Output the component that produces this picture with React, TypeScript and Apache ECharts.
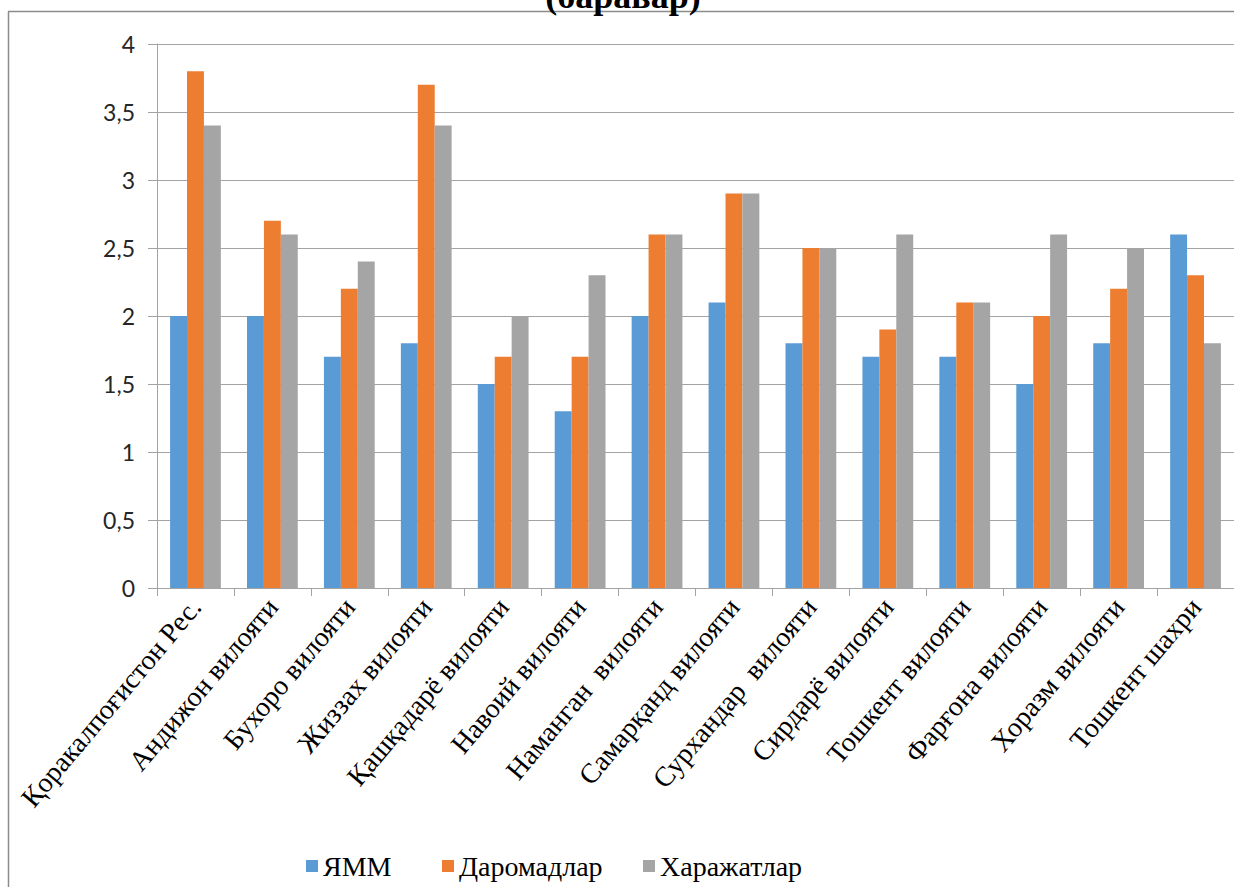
import React, { useEffect, useRef } from "react";
import * as echarts from "echarts";

const categories = [
  "Қоракалпоғистон Рес.",
  "Андижон вилояти",
  "Бухоро вилояти",
  "Жиззах вилояти",
  "Қашқадарё вилояти",
  "Навоий вилояти",
  "Наманган  вилояти",
  "Самарқанд вилояти",
  "Сурхандар  вилояти",
  "Сирдарё вилояти",
  "Тошкент вилояти",
  "Фарғона вилояти",
  "Хоразм вилояти",
  "Тошкент шахри",
];

const seriesNames = ["ЯММ", "Даромадлар", "Харажатлар"];
const yammValues = [2.0, 2.0, 1.7, 1.8, 1.5, 1.3, 2.0, 2.1, 1.8, 1.7, 1.7, 1.5, 1.8, 2.6];
const incomeValues = [3.8, 2.7, 2.2, 3.7, 1.7, 1.7, 2.6, 2.9, 2.5, 1.9, 2.1, 2.0, 2.2, 2.3];
const expenseValues = [3.4, 2.6, 2.4, 3.4, 2.0, 2.3, 2.6, 2.9, 2.5, 2.6, 2.1, 2.6, 2.5, 1.8];
const seriesColors = ["#5B9BD5", "#ED7D31", "#A5A5A5"];
const titleText = "(баравар)";

const SERIF = "Liberation Serif";
const SANS = "Lato";
const GRID_COLOR = "#a3a3a3";

export default function App() {
  const ref = useRef<HTMLDivElement>(null);

  useEffect(() => {
    if (!ref.current) return;
    const chart = echarts.init(ref.current, null, { renderer: "svg" });
    const values = [yammValues, incomeValues, expenseValues];
    const legendLefts = [306, 442, 643];

    chart.setOption({
      animation: false,
      backgroundColor: "#ffffff",
      grid: { left: 157, top: 44, width: 1088, height: 544, containLabel: false },
      legend: seriesNames.map((name, i) => ({
        data: [name],
        left: legendLefts[i],
        top: 852,
        padding: 0,
        itemWidth: 12,
        itemHeight: 12,
        itemGap: 5,
        icon: "rect",
        textStyle: { fontFamily: SERIF, fontSize: 28, color: "#000" },
      })),
      xAxis: {
        type: "category",
        data: categories,
        boundaryGap: true,
        axisLine: { show: true, lineStyle: { color: GRID_COLOR, width: 1 } },
        axisTick: { show: true, length: 8, alignWithLabel: false, lineStyle: { color: GRID_COLOR } },
        axisLabel: {
          rotate: 50,
          interval: 0,
          margin: 14,
          fontFamily: SERIF,
          fontSize: 28,
          color: "#000",
        },
      },
      yAxis: {
        type: "value",
        min: 0,
        max: 4,
        interval: 0.5,
        axisLine: { show: true, lineStyle: { color: GRID_COLOR, width: 1 } },
        axisTick: { show: true, length: 9, lineStyle: { color: GRID_COLOR } },
        splitLine: { show: true, lineStyle: { color: GRID_COLOR, width: 1 } },
        axisLabel: {
          margin: 22,
          fontFamily: SANS,
          fontSize: 23,
          color: "#262626",
          formatter: (v: number) => String(v).replace(".", ","),
        },
      },
      series: seriesNames.map((name, i) => ({
        name,
        type: "bar",
        data: values[i],
        barGap: "0%",
        barCategoryGap: "34%",
        itemStyle: { color: seriesColors[i] },
      })),
      graphic: [
        {
          type: "line",
          shape: { x1: 8.5, y1: 11.5, x2: 8.5, y2: 887 },
          style: { stroke: "#8c8c8c", lineWidth: 1.5 },
          silent: true,
        },
        {
          type: "line",
          shape: { x1: 8, y1: 11.5, x2: 1234, y2: 11.5 },
          style: { stroke: "#8c8c8c", lineWidth: 1.5 },
          silent: true,
        },
        {
          type: "text",
          x: 623,
          y: -4,
          style: {
            text: titleText,
            fontFamily: SERIF,
            fontWeight: "bold",
            fontSize: 36,
            fill: "#000",
            align: "center",
            verticalAlign: "middle",
          },
          silent: true,
        },
      ],
    });

    return () => chart.dispose();
  }, []);

  return (
    <div
      ref={ref}
      style={{ position: "absolute", left: 0, top: 0, width: 1234, height: 887 }}
    />
  );
}
